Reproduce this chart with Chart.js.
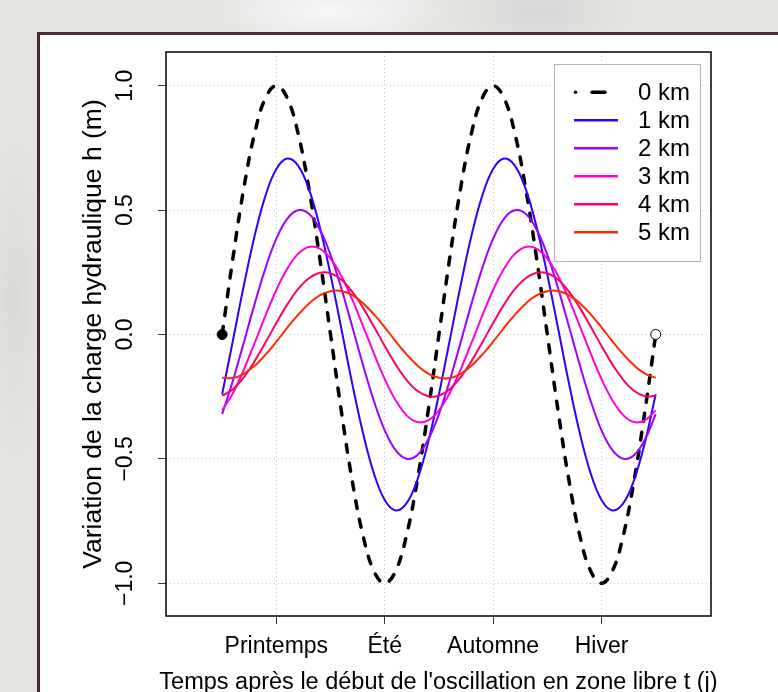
<!DOCTYPE html>
<html>
<head>
<meta charset="utf-8">
<script src="https://cdn.jsdelivr.net/npm/chart.js@4/dist/chart.umd.min.js"></script>
<style>
  html, body { margin: 0; padding: 0; }
  body {
    width: 778px; height: 692px; overflow: hidden; position: relative;
    background:
      radial-gradient(ellipse 120px 40px at 330px 10px, rgba(250,250,250,0.9), rgba(250,250,250,0) 100%),
      radial-gradient(ellipse 90px 40px at 540px 12px, rgba(200,200,200,0.5), rgba(200,200,200,0) 100%),
      radial-gradient(ellipse 30px 160px at 15px 300px, rgba(210,210,208,0.6), rgba(210,210,208,0) 100%),
      radial-gradient(ellipse 40px 120px at 760px 200px, rgba(210,210,210,0.6), rgba(210,210,210,0) 100%),
      #e4e4e1;
  }
  #panel {
    position: absolute; left: 37px; top: 32px; width: 800px; height: 720px;
    background: #ffffff; border-left: 3px solid #4b2a31; border-top: 3px solid #4b2a31;
  }
  #c { position: absolute; left: 0; top: 0; }
</style>
</head>
<body>
<div id="panel"></div>
<canvas id="c" width="778" height="720"></canvas>
<script>
// ---- data ----
const tValues = [0,0.1,0.2,0.3,0.4,0.5,0.6,0.7,0.8,0.9,1,1.1,1.2,1.3,1.4,1.5,1.6,1.7,1.8,1.9,2,2.1,2.2,2.3,2.4,2.5,2.6,2.7,2.8,2.9,3,3.1,3.2,3.3,3.4,3.5,3.6,3.7,3.8,3.9,4];

const h0km = [0,0.309,0.588,0.809,0.951,1,0.951,0.809,0.588,0.309,
  0,-0.309,-0.588,-0.809,-0.951,-1,-0.951,-0.809,-0.588,-0.309,
  0,0.309,0.588,0.809,0.951,1,0.951,0.809,0.588,0.309,
  0,-0.309,-0.588,-0.809,-0.951,-1,-0.951,-0.809,-0.588,-0.309, 0];

const h1km = [-0.240,-0.023,0.197,0.397,0.558,0.665,0.707,0.679,0.585,0.434,
  0.240,0.023,-0.197,-0.397,-0.558,-0.665,-0.707,-0.679,-0.585,-0.434,
  -0.240,-0.023,0.197,0.397,0.558,0.665,0.707,0.679,0.585,0.434,
  0.240,0.023,-0.197,-0.397,-0.558,-0.665,-0.707,-0.679,-0.585,-0.434, -0.240];

const h2km = [-0.320,-0.185,-0.032,0.123,0.267,0.385,0.465,0.499,0.485,0.423,
  0.320,0.185,0.032,-0.123,-0.267,-0.385,-0.465,-0.499,-0.485,-0.423,
  -0.320,-0.185,-0.032,0.123,0.267,0.385,0.465,0.499,0.485,0.423,
  0.320,0.185,0.032,-0.123,-0.267,-0.385,-0.465,-0.499,-0.485,-0.423, -0.320];

const h3km = [-0.305,-0.235,-0.141,-0.034,0.076,0.179,0.264,0.324,0.352,0.345,
  0.305,0.235,0.141,0.034,-0.076,-0.179,-0.264,-0.324,-0.352,-0.345,
  -0.305,-0.235,-0.141,-0.034,0.076,0.179,0.264,0.324,0.352,0.345,
  0.305,0.235,0.141,0.034,-0.076,-0.179,-0.264,-0.324,-0.352,-0.345, -0.305];

const h4km = [-0.246,-0.220,-0.172,-0.107,-0.032,0.046,0.120,0.182,0.226,0.248,
  0.246,0.220,0.172,0.107,0.032,-0.046,-0.120,-0.182,-0.226,-0.248,
  -0.246,-0.220,-0.172,-0.107,-0.032,0.046,0.120,0.182,0.226,0.248,
  0.246,0.220,0.172,0.107,0.032,-0.046,-0.120,-0.182,-0.226,-0.248, -0.246];

const h5km = [-0.174,-0.175,-0.158,-0.126,-0.081,-0.029,0.027,0.079,0.124,0.157,
  0.174,0.175,0.158,0.126,0.081,0.029,-0.027,-0.079,-0.124,-0.157,
  -0.174,-0.175,-0.158,-0.126,-0.081,-0.029,0.027,0.079,0.124,0.157,
  0.174,0.175,0.158,0.126,0.081,0.029,-0.027,-0.079,-0.124,-0.157, -0.174];

const seriesLabels = ['0 km','1 km','2 km','3 km','4 km','5 km'];
const seriesColors = ['#000000','#3300ff','#9f00ff','#ff00dd','#ff0066','#ff2a00'];

const markerT = [0, 4];
const markerH = [0, 0];
const markerFill = ['#000000', '#ffffff'];

const seasonTicks = [0.5, 1.5, 2.5, 3.5];
const seasonLabels = ['Printemps', 'Été', 'Automne', 'Hiver'];
const yTickValues = [-1, -0.5, 0, 0.5, 1];
const yTickLabels = ['\u22121.0', '\u22120.5', '0.0', '0.5', '1.0'];

const xTitle = "Temps après le début de l'oscillation en zone libre t (j)";
const yTitle = 'Variation de la charge hydraulique h (m)';

// ---- build datasets ----
const allSeries = [h0km, h1km, h2km, h3km, h4km, h5km];
const toXY = arr => tValues.map((t, i) => ({ x: t, y: arr[i] }));

const datasets = allSeries.map((arr, k) => ({
  label: seriesLabels[k],
  data: toXY(arr),
  borderColor: seriesColors[k],
  backgroundColor: seriesColors[k],
  borderWidth: k === 0 ? 3.5 : 2,
  borderDash: k === 0 ? [8, 11] : [],
  borderCapStyle: k === 0 ? 'round' : 'butt',
  pointRadius: 0,
  tension: 0.4,
  fill: false,
  order: k === 0 ? 20 : 10 - k
}));

datasets.push({
  label: '',
  isMarker: true,
  data: markerT.map((t, i) => ({ x: t, y: markerH[i] })),
  showLine: false,
  pointRadius: 5,
  pointBackgroundColor: markerFill,
  pointBorderColor: '#000000',
  pointBorderWidth: 1,
  order: 0
});

const FAMILY = '"Liberation Sans", Arial, Helvetica, sans-serif';
const TICK_FONT = { family: FAMILY, size: 23 };
const XTITLE_SIZE = 23.5;
const YTITLE_FONT = { family: FAMILY, size: 26.5 };
const LEGEND_SIZE = 24;

const plotBox = {
  id: 'plotBox',
  beforeDatasetsDraw(chart) {
    const { ctx, chartArea: a } = chart;
    ctx.save();
    ctx.strokeStyle = '#000';
    ctx.lineWidth = 1.5;
    ctx.strokeRect(a.left, a.top, a.right - a.left, a.bottom - a.top);
    ctx.restore();
  }
};

// x-axis title drawn without the scale's width limit (the reference title is wider than the axis)
const wideXTitle = {
  id: 'wideXTitle',
  afterDraw(chart) {
    const s = chart.scales.x;
    const { ctx } = chart;
    ctx.save();
    ctx.font = `${XTITLE_SIZE}px ${FAMILY}`;
    ctx.fillStyle = '#000';
    ctx.textAlign = 'center';
    ctx.textBaseline = 'middle';
    ctx.fillText(xTitle, (s.left + s.right) / 2, s.bottom - 37);
    ctx.restore();
  }
};

const boxLegend = {
  id: 'boxLegend',
  afterDraw(chart) {
    const { ctx, chartArea: a } = chart;
    const right = a.right - 11, top = a.top + 12;
    const w = 146, h = 197;
    const left = right - w;
    ctx.save();
    ctx.fillStyle = '#ffffff';
    ctx.fillRect(left, top, w, h);
    ctx.strokeStyle = '#b5b5b5';
    ctx.lineWidth = 1;
    ctx.strokeRect(left + 0.5, top + 0.5, w, h);
    ctx.font = `${LEGEND_SIZE}px ${FAMILY}`;
    ctx.textBaseline = 'middle';
    ctx.textAlign = 'left';
    const items = chart.data.datasets.filter(d => !d.isMarker);
    items.forEach((d, i) => {
      const y = top + 28.3 + 28 * i;
      const x0 = left + 20, x1 = left + 64;
      ctx.strokeStyle = d.borderColor;
      if (d.borderDash && d.borderDash.length) {
        ctx.fillStyle = d.borderColor;
        ctx.beginPath();
        ctx.arc(x0 + 1.5, y, 1.8, 0, Math.PI * 2);
        ctx.fill();
        ctx.lineWidth = d.borderWidth;
        ctx.lineCap = 'round';
        ctx.beginPath();
        ctx.moveTo(x0 + 18, y);
        ctx.lineTo(x0 + 31, y);
        ctx.stroke();
      } else {
        ctx.lineWidth = 2.5;
        ctx.lineCap = 'butt';
        ctx.beginPath();
        ctx.moveTo(x0, y);
        ctx.lineTo(x1, y);
        ctx.stroke();
      }
      ctx.fillStyle = '#000';
      ctx.fillText(d.label, left + 84, y + 1);
    });
    ctx.restore();
  }
};

new Chart(document.getElementById('c'), {
  type: 'line',
  data: { datasets },
  options: {
    responsive: false,
    animation: false,
    devicePixelRatio: 1,
    layout: { padding: { top: 52, right: 67, left: 0, bottom: 0 } },
    plugins: { legend: { display: false }, tooltip: { enabled: false } },
    scales: {
      x: {
        type: 'linear',
        min: -0.518,
        max: 4.51,
        afterBuildTicks: s => { s.ticks = seasonTicks.map(v => ({ value: v })); },
        afterFit: s => { s.height = 104; },
        border: { display: false, dash: [1, 3] },
        grid: {
          color: '#c4c4c4', lineWidth: 1,
          tickColor: '#333', tickBorderDash: [], tickLength: 8, tickWidth: 1
        },
        ticks: {
          autoSkip: false, maxRotation: 0, minRotation: 0,
          font: TICK_FONT, color: '#000', padding: 9,
          callback: (v, i) => seasonLabels[i]
        },
        title: { display: false }
      },
      y: {
        type: 'linear',
        min: -1.1314,
        max: 1.1354,
        afterBuildTicks: s => { s.ticks = yTickValues.map(v => ({ value: v })); },
        afterFit: s => { s.width = 166; },
        border: { display: false, dash: [1, 3] },
        grid: {
          color: '#c4c4c4', lineWidth: 1,
          tickColor: '#333', tickBorderDash: [], tickLength: 8, tickWidth: 1
        },
        ticks: {
          autoSkip: false, minRotation: 90, maxRotation: 90, crossAlign: 'center',
          font: TICK_FONT, color: '#000', padding: 9.3,
          callback: (v, i) => yTickLabels[i]
        },
        title: { display: true, text: yTitle, font: YTITLE_FONT, color: '#000', padding: { top: 78.1, bottom: 0 } }
      }
    }
  },
  plugins: [plotBox, wideXTitle, boxLegend]
});
</script>
</body>
</html>
